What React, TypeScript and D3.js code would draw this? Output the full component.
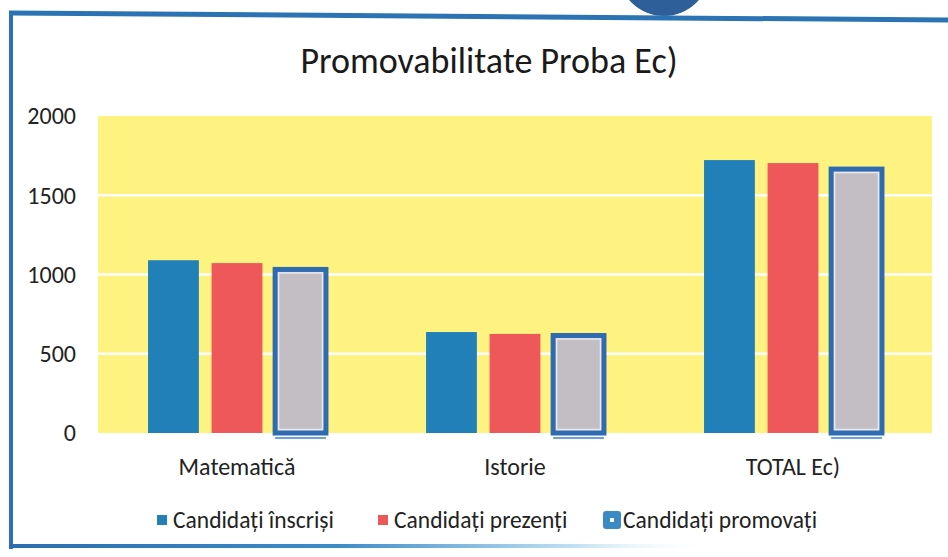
import React from "react";
import * as d3 from "d3";

const categories = ["Matematică", "Istorie", "TOTAL Ec)"];
const seriesNames = ["Candidați înscriși", "Candidați prezenți", "Candidați promovați"];
const inscrisi = [1090, 637, 1722];
const prezenti = [1072, 625, 1703];
const promovati = [1032, 615, 1665];
const yTicks = [0, 500, 1000, 1500, 2000];

const W = 948;
const H = 557;
const FONT = "Carlito, Lato, 'Open Sans', sans-serif";
const BLUE = "#2280B8";
const RED = "#EE585A";
const GRAY = "#C2BEC3";
const GBORDER = "#2E6BB0";
const YELLOW = "#FEF281";

export default function App() {
  const plot = { left: 98, right: 932, top: 116, bottom: 433 };
  const x = d3.scaleBand<string>().domain(categories).range([plot.left, plot.right]).paddingInner(0.36).paddingOuter(0.18);
  const x1 = d3.scaleBand<number>().domain([0, 1, 2]).range([0, x.bandwidth()]).paddingInner(0.2);
  const y = d3.scaleLinear().domain([0, 2000]).range([plot.bottom, plot.top]);
  const series = [inscrisi, prezenti, promovati];
  const colors = [BLUE, RED, GRAY];

  const legendX = [157, 378, 603];

  return (
    <svg width={W} height={H} style={{ position: "absolute", left: 0, top: 0, background: "#fff" }} fontFamily={FONT}>
      <defs>
        <linearGradient id="bottomGrad" x1="0" x2="1" y1="0" y2="0">
          <stop offset="0" stopColor="#2B6EAF" />
          <stop offset="0.35" stopColor="#3C8CC8" />
          <stop offset="0.6" stopColor="#BFE0F2" />
          <stop offset="0.75" stopColor="#ffffff" stopOpacity="0" />
        </linearGradient>
      </defs>
      <rect x={0} y={0} width={W} height={H} fill="#fff" />
      {/* seal */}
      <circle cx={664} cy={-30} r={46} fill="#2F5F98" />
      {/* frame */}
      <line x1={9} y1={13} x2={W} y2={20} stroke="#2C73B3" strokeWidth={5} />
      <line x1={11} y1={12} x2={11} y2={549} stroke="#2C73B3" strokeWidth={4} />
      <rect x={9} y={544} width={W - 9} height={4} fill="url(#bottomGrad)" />

      <text x={489} y={73} textAnchor="middle" fontSize={36} fill="#1a1a1a">Promovabilitate Proba Ec)</text>

      <rect x={plot.left} y={plot.top} width={plot.right - plot.left} height={plot.bottom - plot.top} fill={YELLOW} />
      {yTicks.filter((t) => t > 0 && t < 2000).map((t) => (
        <line key={t} x1={plot.left} x2={plot.right} y1={y(t)} y2={y(t)} stroke="#fff" strokeWidth={2.5} />
      ))}
      {yTicks.map((t) => (
        <text key={t} x={76} y={y(t)} dy="0.35em" textAnchor="end" fontSize={24} fill="#222">{t}</text>
      ))}

      {categories.map((c, i) => (
        <g key={c} transform={`translate(${x(c)},0)`}>
          {series.map((s, k) => {
            const bx = x1(k)!;
            const bw = x1.bandwidth();
            const top = y(s[i]);
            const h = y(0) - top;
            if (k < 2) {
              return <rect key={k} x={bx} y={top} width={bw} height={h} fill={colors[k]} />;
            }
            return (
              <g key={k}>
                <rect x={bx} y={top} width={bw} height={h} fill={GRAY} stroke={GBORDER} strokeWidth={5} />
                <rect x={bx + 3.5} y={top + 3.5} width={bw - 7} height={h - 7} fill="none" stroke="#E8E8EE" strokeWidth={1.5} />
                <line x1={bx} x2={bx + bw} y1={y(0) + 5} y2={y(0) + 5} stroke="#3A86C6" strokeWidth={1.5} />
              </g>
            );
          })}
          <text x={x.bandwidth() / 2} y={467} dy="0.35em" textAnchor="middle" fontSize={24} fill="#222">{c}</text>
        </g>
      ))}

      {seriesNames.map((n, k) => (
        <g key={n} transform={`translate(${legendX[k]},520)`}>
          {k < 2 ? (
            <rect x={0} y={-5} width={10} height={10} fill={colors[k]} />
          ) : (
            <g>
              <rect x={0} y={-9} width={18} height={18} rx={3} fill="#3A8AC4" />
              <rect x={7} y={-2} width={4} height={4} fill="#fff" />
            </g>
          )}
          <text x={k < 2 ? 16 : 20} y={0} dy="0.35em" fontSize={23.5} fill="#222">{n}</text>
        </g>
      ))}
    </svg>
  );
}
